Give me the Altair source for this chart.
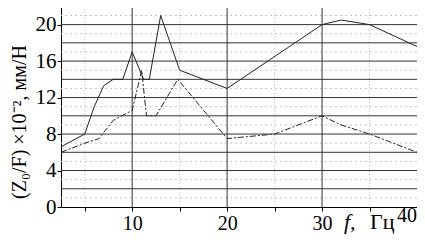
import altair as alt
import pandas as pd

# ---- data ----
solid_f = [2.5, 5, 6, 7, 8, 9, 10, 11.2, 11.8, 13, 15, 20, 30, 32, 35, 40]
solid_z = [6.6, 8.0, 11.0, 13.3, 14.0, 14.0, 17.0, 14.0, 14.0, 21.0, 15.0, 13.0, 20.0, 20.5, 20.0, 17.6]

dash_f = [2.5, 5, 6.5, 8, 10, 11, 11.5, 12.5, 14.8, 20, 25, 30, 32, 35, 40]
dash_z = [6.0, 7.0, 7.5, 9.5, 10.6, 15.0, 10.0, 10.0, 14.0, 7.5, 8.0, 10.0, 9.0, 8.0, 6.0]

major_y = [2, 4, 6, 8, 10, 12, 14, 16, 18, 20, 22]
minor_y = [1, 3, 5, 7, 9, 11, 13, 15, 17, 19, 21]
major_x = [10, 20, 30]
minor_x = [5, 15, 25, 35]
x_ticks = [5, 10, 15, 20, 25, 30, 35, 40]
y_ticks = [0, 2, 4, 6, 8, 10, 12, 14, 16, 18, 20, 22]

y_title = "(Z\u2080/F) \u00d710\u207b\u00b2, мм/Н"
FONT = "Liberation Serif"

xs = alt.Scale(domain=[2.5, 40], nice=False, zero=False)
ys = alt.Scale(domain=[0, 22.7], nice=False, zero=False)

df_solid = pd.DataFrame({"f": solid_f, "z": solid_z})
df_dash = pd.DataFrame({"f": dash_f, "z": dash_z})

minor_x_rules = alt.Chart(pd.DataFrame({"f": minor_x})).mark_rule(
    color="#c4c4c4", strokeDash=[1, 2], strokeWidth=1
).encode(x=alt.X("f:Q", scale=xs))

minor_y_rules = alt.Chart(pd.DataFrame({"z": minor_y})).mark_rule(
    color="#c4c4c4", strokeDash=[2, 3], strokeWidth=1
).encode(y=alt.Y("z:Q", scale=ys))

major_x_rules = alt.Chart(pd.DataFrame({"f": major_x})).mark_rule(
    color="#333333", strokeWidth=1
).encode(x=alt.X("f:Q", scale=xs))

major_y_rules = alt.Chart(pd.DataFrame({"z": major_y})).mark_rule(
    color="#333333", strokeWidth=1
).encode(y=alt.Y("z:Q", scale=ys))

solid = alt.Chart(df_solid).mark_line(color="#222222", strokeWidth=1).encode(
    x=alt.X(
        "f:Q",
        scale=xs,
        axis=alt.Axis(
            values=x_ticks,
            labelExpr="(datum.value % 10 == 0 && datum.value < 40) ? datum.value : ''",
            tickSize=4,
            tickColor="#000000",
            domainColor="#000000",
            labelFont=FONT,
            labelFontSize=20,
            labelColor="#000000",
            labelBaseline="alphabetic",
            labelPadding=18,
            grid=False,
            title=None,
        ),
    ),
    y=alt.Y(
        "z:Q",
        scale=ys,
        axis=alt.Axis(
            values=y_ticks,
            labelExpr="datum.value % 4 == 0 ? datum.value : ''",
            tickSize=4,
            tickColor="#000000",
            domainColor="#000000",
            labelFont=FONT,
            labelFontSize=21,
            labelColor="#000000",
            labelPadding=1,
            grid=False,
            title=None,
        ),
    ),
)

dashed = alt.Chart(df_dash).mark_line(
    color="#222222", strokeWidth=1, strokeDash=[6, 2, 2, 2]
).encode(x=alt.X("f:Q", scale=xs), y=alt.Y("z:Q", scale=ys))

label40 = alt.Chart(pd.DataFrame({"f": [40], "t": ["40"]})).mark_text(
    font=FONT, fontSize=20, align="right", baseline="alphabetic", color="#000000"
).encode(x=alt.X("f:Q", scale=xs), y=alt.value(222), text="t:N")

ytitle = alt.Chart(pd.DataFrame({"t": [y_title]})).mark_text(
    font=FONT, fontSize=20, angle=270, align="center", baseline="alphabetic", color="#000000"
).encode(x=alt.value(-35), y=alt.value(122), text="t:N")

xtitle_f = alt.Chart(pd.DataFrame({"t": ["f,"]})).mark_text(
    font=FONT, fontSize=22, fontStyle="italic", align="left", baseline="alphabetic", color="#000000"
).encode(x=alt.value(283), y=alt.value(229), text="t:N")

xtitle_u = alt.Chart(pd.DataFrame({"t": ["Гц"]})).mark_text(
    font=FONT, fontSize=22, align="left", baseline="alphabetic", color="#000000"
).encode(x=alt.value(309), y=alt.value(229), text="t:N")

chart = alt.layer(
    minor_x_rules, minor_y_rules, major_x_rules, major_y_rules,
    dashed, solid, label40, ytitle, xtitle_f, xtitle_u,
).properties(
    width=356,
    height=207,
    autosize=alt.AutoSizeParams(type="none"),
    padding={"left": 53, "top": -8, "right": 0, "bottom": 27},
    background="#ffffff",
).configure_view(stroke=None)

chart.save("out.html", embed_options={"renderer": "svg", "actions": False})
